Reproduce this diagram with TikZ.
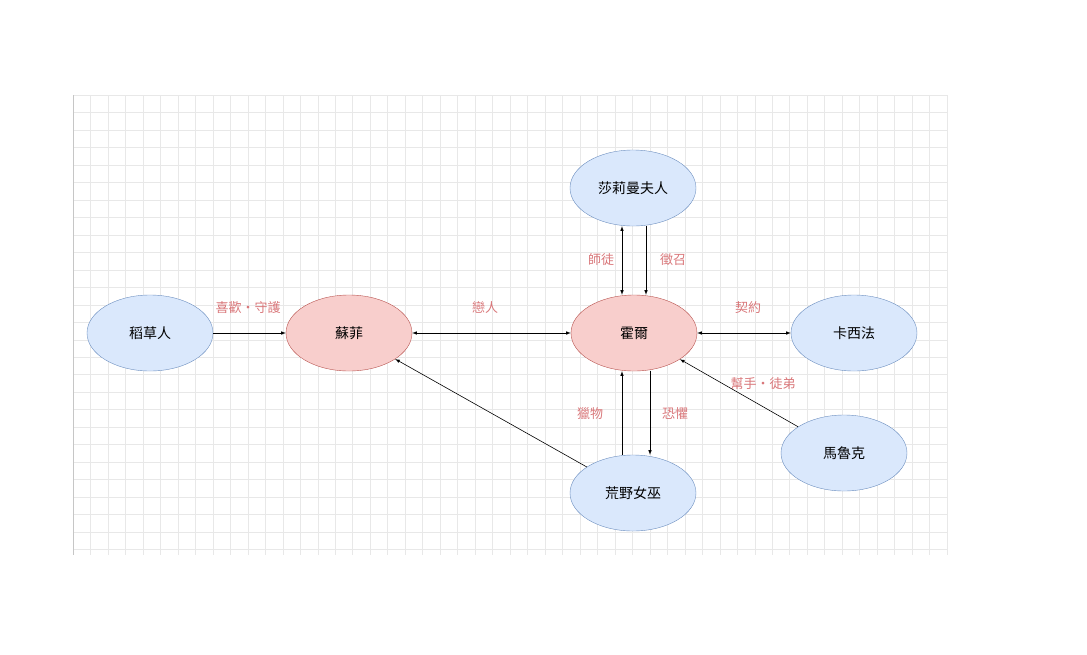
\documentclass[tikz,border=0pt]{standalone}
\usepackage{fontspec}
\setmainfont{Noto Sans CJK TC}
\usepackage{tikz}
\usetikzlibrary{shapes.geometric}
\definecolor{bluefill}{HTML}{DAE8FC}
\definecolor{bluedraw}{HTML}{6C8EBF}
\definecolor{redfill}{HTML}{F8CECC}
\definecolor{reddraw}{HTML}{B85450}
\definecolor{labelred}{HTML}{D9777A}
\tikzset{
  person/.style={ellipse, draw=bluedraw, fill=bluefill, minimum width=126pt, minimum height=76pt, font=\fontsize{14}{16}\selectfont},
  lead/.style={person, draw=reddraw, fill=redfill},
  rel/.style={text=labelred, font=\fontsize{13}{15}\selectfont},
  link/.style={-latex, semithick}
}
\begin{document}
\begin{tikzpicture}[x=1pt, y=-1pt]
            \useasboundingbox (0,0) rectangle (1087,654);
            % Grid
            \foreach \i in {0,...,50}
              \draw[gray!18] (73+17.48*\i,95) -- (73+17.48*\i,555);
            \foreach \j in {0,...,26}
              \draw[gray!18] (73,95+17.48*\j) -- (947,95+17.48*\j);
            \draw[gray!45] (73,95) -- (73,555);
            
            % People
            \node[person] (scarecrow) at (150,333) {稻草人};
            \node[lead] (sophie) at (349,333) {蘇菲};
            \node[lead] (howl) at (634,333) {霍爾};
            \node[person] (calcifer) at (854,333) {卡西法};
            \node[person] (suliman) at (633,188) {莎莉曼夫人};
            \node[person] (witch) at (633,493) {荒野女巫};
            \node[person] (markl) at (844,453) {馬魯克};
            
            % Relations
            \draw[link] (scarecrow) -- (sophie);
            \node[rel] at (248,308) {喜歡・守護};
            \draw[link, latex-latex] (sophie) -- (howl);
            \node[rel] at (485,308) {戀人};
            \draw[link, latex-latex] (howl) -- (calcifer);
            \node[rel] at (748,308) {契約};
            \draw[link, latex-latex] ([xshift=-11pt]suliman.south) -- ([xshift=-12pt]howl.north);
            \node[rel] at (601,260) {師徒};
            \draw[link] ([xshift=13pt]suliman.south) -- ([xshift=12pt]howl.north);
            \node[rel] at (673,260) {徵召};
            \draw[link] ([xshift=-11pt]witch.north) -- ([xshift=-12pt]howl.south);
            \node[rel] at (590,414) {獵物};
            \draw[link] ([xshift=16pt]howl.south) -- ([xshift=17pt]witch.north);
            \node[rel] at (675,414) {恐懼};
            \draw[link] (markl) -- (howl);
            \node[rel] at (763,384) {幫手・徒弟};
            \draw[link] (witch) -- (sophie);
\end{tikzpicture}
\end{document}
